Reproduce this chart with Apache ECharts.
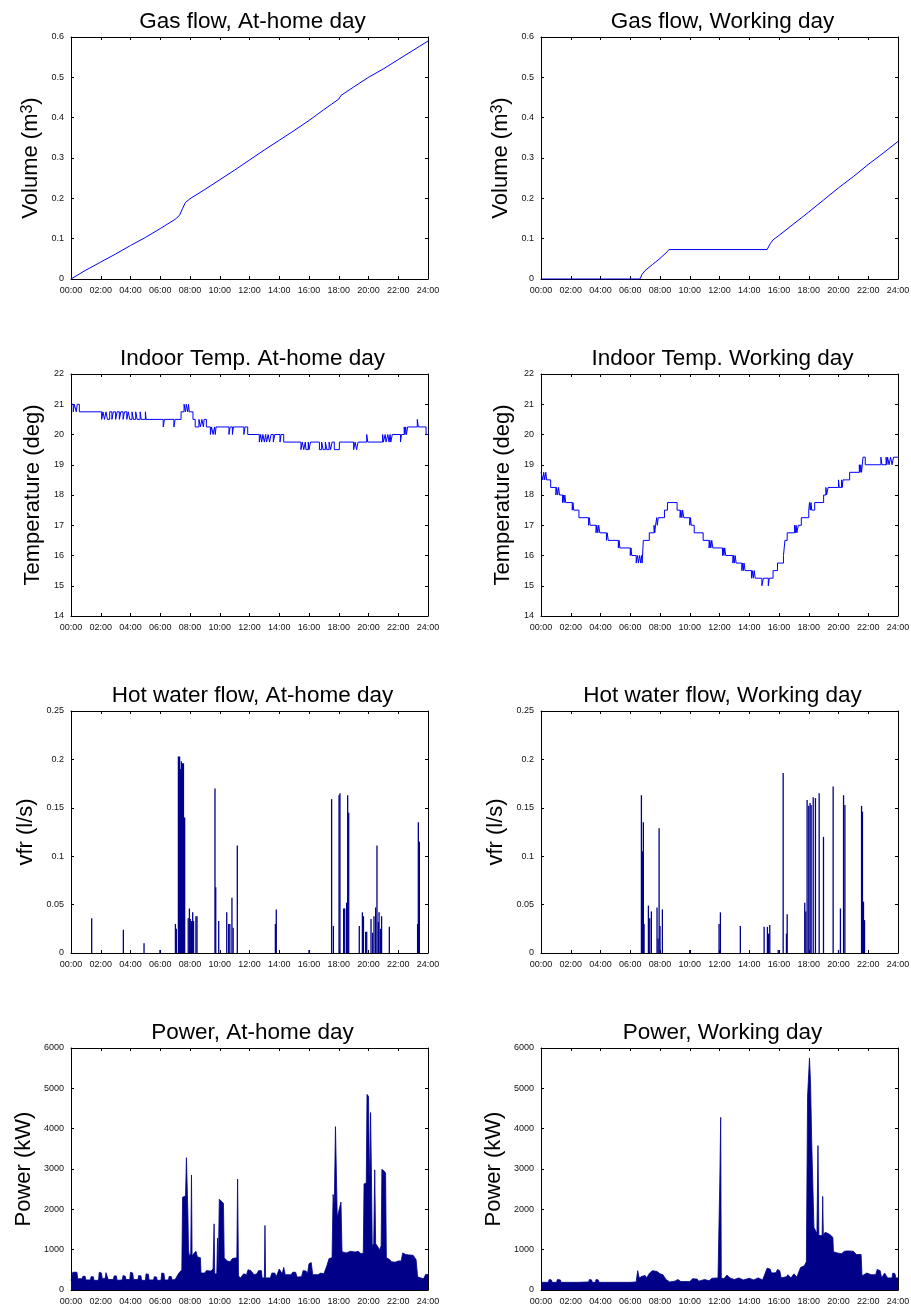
<!DOCTYPE html>
<html>
<head>
<meta charset="utf-8">
<script src="https://cdn.jsdelivr.net/npm/echarts@6/dist/echarts.min.js"></script>
<style>
  html, body { margin: 0; padding: 0; background: #fff; }
  #chart { width: 911px; height: 1308px; }
</style>
</head>
<body>
<div id="chart"></div>
<script>
// x axis tick labels (hours of the day)
const hourLabels = ['00:00','02:00','04:00','06:00','08:00','10:00','12:00','14:00','16:00','18:00','20:00','22:00','24:00'];

// gas meter volume, [hour, m3]
const gasHome = [[0,0],[1,0.022],[2,0.042],[3,0.062],[4,0.083],[5,0.103],[6,0.125],[7,0.148],[7.3,0.158],[7.5,0.175],[7.7,0.19],[8,0.199],
  [9,0.222],[10,0.246],[11,0.27],[12,0.295],[13,0.32],[14,0.344],[15,0.368],[16,0.393],[17,0.42],[18,0.446],[18.15,0.455],
  [19,0.476],[20,0.5],[21,0.521],[22,0.544],[23,0.567],[24,0.59]];
const gasWork = [[0,0],[6.65,0],[6.8,0.012],[7,0.021],[7.5,0.036],[8,0.051],[8.5,0.068],[8.6,0.073],[15.2,0.073],[15.4,0.087],
  [15.6,0.097],[16,0.108],[17,0.137],[18,0.166],[19,0.196],[20,0.226],[21,0.254],[22,0.284],[23,0.312],[24,0.341]];

// indoor temperature, [hour, deg] step values
const tempHome = [[0,21],[0.15,20.75],[0.22,21],[0.35,20.75],[0.42,21],[0.56,20.75],
  [2.06,20.5],[2.15,20.75],[2.25,20.5],[2.35,20.75],[2.45,20.5],[2.6,20.75],[2.75,20.5],[2.85,20.75],[3.0,20.5],[3.1,20.75],
  [3.25,20.5],[3.35,20.75],[3.5,20.5],[3.6,20.75],[3.75,20.5],[3.85,20.75],[3.95,20.5],[4.1,20.75],[4.2,20.5],[4.35,20.75],
  [4.45,20.5],[4.65,20.75],[4.72,20.5],[5.0,20.75],[5.05,20.5],
  [6.2,20.25],[6.28,20.5],[6.92,20.25],[7.0,20.5],
  [7.4,20.75],[7.6,21],[7.7,20.75],[7.75,21],[7.85,20.75],[7.9,21],[7.95,20.75],
  [8.2,20.5],[8.35,20.25],[8.6,20.5],[8.7,20.25],[8.8,20.5],[8.9,20.25],[8.95,20.5],[9.1,20.25],
  [9.37,20],[9.45,20.25],[9.55,20],[9.65,20.25],[9.7,20],[9.75,20.25],
  [10.62,20],[10.7,20.25],[10.85,20],[10.92,20.25],[11.62,20],[11.7,20.25],[11.88,20],
  [12.66,19.75],[12.75,20],[12.82,19.75],[12.9,20],[13.0,19.75],[13.08,20],[13.15,19.75],[13.25,20],[13.35,19.75],[13.45,20],
  [13.6,19.75],[13.7,20],[14.05,19.75],[14.12,20],[14.3,19.75],
  [15.46,19.5],[15.55,19.75],[15.65,19.5],[15.75,19.75],[15.8,19.5],[15.95,19.75],[16.0,19.5],[16.1,19.75],
  [16.7,19.5],[16.85,19.75],[16.95,19.5],[17.1,19.75],[17.2,19.5],[17.35,19.75],[17.45,19.5],[17.55,19.75],[17.7,19.5],
  [18.04,19.75],[19.0,19.5],[19.1,19.75],[19.2,19.5],[19.3,19.75],[19.88,20],[19.95,19.75],
  [20.95,20],[21.0,19.75],[21.12,20],[21.18,19.75],[21.3,20],[21.38,19.75],[21.45,20],[21.5,19.75],[21.6,20],
  [22.15,19.75],[22.22,20],[22.4,20.25],[22.45,20],[22.5,20.25],[22.55,20],[22.63,20.25],
  [23.28,20.5],[23.35,20.25],[23.87,20],[24,20]];
const tempWork = [[0,18.75],[0.12,18.5],[0.18,18.75],[0.25,18.5],[0.32,18.75],[0.38,18.5],
  [0.65,18.25],[1.0,18],[1.05,18.25],[1.12,18],[1.18,18.25],[1.25,18],
  [1.45,17.75],[1.5,18],[1.55,17.75],[1.6,18],[1.66,17.75],[2.1,17.5],[2.15,17.75],[2.2,17.5],
  [2.55,17.25],[3.2,17],[3.25,17.25],[3.3,17],[3.7,16.75],[3.75,17],[3.82,16.75],[3.88,17],[3.95,16.75],
  [4.4,16.5],[4.45,16.75],[4.52,16.5],[5.2,16.25],[5.25,16.5],[5.3,16.25],[6.0,16],[6.05,16.25],[6.1,16],
  [6.4,15.75],[6.48,16],[6.55,15.75],[6.62,16],[6.7,15.75],[6.75,16],[6.8,15.75],[6.88,16.5],
  [7.28,16.75],[7.6,17],[7.65,16.75],[7.7,17],[7.78,17.25],[7.82,17],[7.88,17.25],
  [8.3,17.5],[8.5,17.75],[9.15,17.5],[9.35,17.25],[9.4,17.5],[9.47,17.25],[9.52,17.5],[9.6,17.25],
  [10.0,17],[10.05,17.25],[10.1,17],[10.3,16.75],[10.9,16.5],
  [11.3,16.25],[11.35,16.5],[11.42,16.25],[11.48,16.5],[11.55,16.25],
  [12.2,16],[12.25,16.25],[12.3,16],[12.35,16.25],[12.42,16],
  [12.9,15.75],[12.95,16],[13.0,15.75],[13.05,16],[13.12,15.75],
  [13.5,15.5],[13.55,15.75],[13.6,15.5],[13.65,15.75],[13.72,15.5],
  [14.15,15.25],[14.2,15.5],[14.27,15.25],[14.33,15.5],[14.4,15.25],
  [14.85,15],[14.95,15.25],[15.28,15],[15.35,15.25],
  [15.6,15.5],[15.9,15.75],[16.3,16],[16.4,16.5],[16.55,16.75],
  [17.05,17],[17.1,16.75],[17.15,17],[17.2,16.75],[17.3,17],
  [17.5,17.25],[18.0,17.5],[18.05,17.75],[18.1,17.5],[18.15,17.75],[18.2,17.5],[18.4,17.75],
  [19.0,18],[19.15,18.25],[19.2,18],[19.3,18.25],
  [20.0,18.5],[20.05,18.25],[20.2,18.5],[20.25,18.25],[20.3,18.5],
  [20.75,18.75],[21.4,19],[21.45,18.75],[21.5,19],[21.55,18.75],[21.65,19.25],[21.8,19],
  [22.85,19.25],[22.92,19],[23.2,19.25],[23.25,19],[23.3,19.25],[23.4,19],[23.5,19.25],[23.6,19],[23.7,19.25],[24,19.25]];

// hot water volume flow rate, [hour, l/s]
const waterHome = [[1.39,0.036],[3.52,0.024],[4.91,0.01],[5.98,0.003],[7.02,0.03],[7.08,0.025],
  [7.22,0.203],[7.3,0.203],[7.36,0.19],[7.42,0.198],[7.5,0.196],[7.56,0.196],[7.64,0.14],
  [7.88,0.036],[7.96,0.046],[8.02,0.035],[8.1,0.033],[8.18,0.042],[8.24,0.033],[8.4,0.038],[8.47,0.038],
  [9.68,0.17],[9.73,0.068],[9.93,0.033],
  [10.47,0.042],[10.6,0.03],[10.68,0.03],[10.82,0.057],[10.9,0.026],[11.18,0.111],
  [13.74,0.03],[13.8,0.045],[16.0,0.003],
  [17.52,0.159],[17.64,0.028],[18.02,0.163],[18.08,0.165],[18.33,0.046],[18.4,0.046],
  [18.53,0.052],[18.6,0.163],[18.67,0.145],
  [19.38,0.028],[19.59,0.042],[19.66,0.038],[19.81,0.022],[19.88,0.022],
  [20.17,0.035],[20.28,0.021],[20.37,0.038],[20.48,0.047],[20.57,0.111],[20.66,0.032],[20.71,0.042],[20.8,0.025],[20.88,0.038],
  [21.4,0.027],[23.3,0.03],[23.35,0.135],[23.42,0.115]];
const waterWork = [[6.75,0.163],[6.82,0.105],[6.88,0.135],[6.93,0.03],
  [7.22,0.049],[7.31,0.036],[7.42,0.043],
  [7.8,0.047],[7.87,0.015],[7.94,0.129],[8.0,0.028],[8.16,0.045],
  [10.0,0.003],[11.97,0.03],[12.06,0.042],[13.4,0.028],
  [15.0,0.027],[15.22,0.027],[15.3,0.02],[15.38,0.029],[15.95,0.003],
  [16.28,0.186],[16.5,0.02],[16.55,0.04],
  [17.73,0.052],[17.8,0.043],[17.89,0.158],[18.0,0.152],[18.09,0.155],[18.16,0.153],[18.3,0.161],[18.45,0.16],[18.7,0.165],[18.99,0.12],
  [19.64,0.172],[20.0,0.003],[20.13,0.046],[20.34,0.163],[20.43,0.153],
  [21.55,0.152],[21.61,0.146],[21.68,0.053],[21.75,0.034]];

// electric power, [hour, kW]
const powerHome = [[0,230],[0.12,440],[0.4,440],[0.45,280],[0.75,280],[0.8,340],[0.95,340],[1.0,250],[1.3,250],[1.35,330],[1.5,330],
  [1.55,240],[1.85,240],[1.9,440],[2.05,420],[2.1,280],[2.3,290],[2.35,430],[2.45,430],[2.5,260],[2.85,260],[2.9,350],[3.05,350],
  [3.1,240],[3.45,250],[3.5,360],[3.65,340],[3.7,260],[3.95,260],[4.0,440],[4.15,420],[4.2,260],[4.5,260],[4.55,360],[4.7,350],
  [4.75,240],[5.0,240],[5.05,400],[5.2,390],[5.25,250],[5.55,250],[5.6,330],[5.75,320],[5.8,240],[6.05,240],[6.1,420],[6.25,410],
  [6.3,250],[6.55,250],[6.6,340],[6.75,330],[6.8,250],[7.0,260],[7.05,300],[7.25,420],[7.45,500],
  [7.5,2300],[7.7,2330],[7.76,3280],[7.82,3280],[7.86,1870],[7.9,1000],[7.95,850],[8.05,900],[8.1,2850],[8.14,850],[8.25,900],
  [8.4,960],[8.5,820],[8.7,800],[8.74,420],[9.0,420],[9.1,480],[9.4,470],[9.55,520],[9.62,1640],[9.66,400],[9.8,400],[9.85,1290],
  [9.9,500],[9.97,2250],[10.1,2220],[10.25,2150],[10.3,800],[10.5,720],[10.7,700],[10.85,780],[11.15,800],[11.2,2750],[11.26,350],
  [11.4,300],[11.6,400],[11.8,380],[11.9,500],[12.1,480],[12.3,380],[12.5,400],[12.6,480],[12.8,480],[12.85,300],[13.0,300],
  [13.04,1600],[13.08,300],[13.4,300],[13.5,420],[13.7,420],[13.8,330],[14.0,520],[14.2,400],[14.3,560],[14.4,380],[14.8,380],
  [14.9,440],[15.1,440],[15.2,320],[15.5,330],[15.6,480],[15.8,470],[15.9,400],[16.0,650],[16.15,680],[16.25,380],[16.6,380],
  [16.8,420],[17.0,400],[17.2,600],[17.35,780],[17.55,800],[17.62,2370],[17.7,2100],[17.78,4050],[17.84,2900],[17.9,1800],
  [18.0,1780],[18.15,2180],[18.22,950],[18.5,920],[18.8,960],[19.1,940],[19.3,960],[19.5,900],[19.65,920],[19.7,2630],[19.85,2650],
  [19.9,4850],[20.0,4800],[20.05,3300],[20.1,2800],[20.14,4400],[20.2,2800],[20.25,1100],[20.35,1150],[20.42,2980],[20.48,1150],
  [20.6,1130],[20.75,1000],[20.85,1100],[20.9,2990],[21.05,2950],[21.15,2900],[21.2,800],[21.4,760],[21.55,700],[21.8,690],
  [22.0,720],[22.2,720],[22.3,920],[22.5,880],[22.7,870],[23.0,860],[23.2,750],[23.3,330],[23.5,300],[23.7,280],[23.85,390],[24,380]];
const powerWork = [[0,190],[0.5,190],[0.55,260],[0.7,250],[0.75,190],[1.05,190],[1.1,260],[1.3,250],[1.35,190],[2.5,190],[3.2,200],
  [3.25,260],[3.4,250],[3.45,190],[3.65,190],[3.7,260],[3.85,250],[3.9,190],[5.0,190],[6.0,190],[6.4,200],[6.5,480],[6.6,300],
  [6.8,340],[7.0,360],[7.1,300],[7.3,420],[7.5,480],[7.6,510],[7.8,460],[8.0,400],[8.2,380],[8.4,260],[8.65,200],[9.0,220],
  [9.2,260],[9.4,210],[10.0,210],[10.2,280],[10.5,270],[10.6,220],[11.0,260],[11.3,230],[11.5,290],[11.9,300],[12.02,2700],
  [12.08,4280],[12.12,300],[12.3,280],[12.5,370],[12.7,300],[13.0,260],[13.3,300],[13.6,250],[14.0,290],[14.3,250],[14.6,300],
  [14.9,250],[15.2,540],[15.4,520],[15.5,420],[15.8,430],[15.9,510],[16.05,480],[16.15,300],[16.5,330],[16.6,380],[16.8,300],
  [17.0,400],[17.2,320],[17.45,560],[17.7,600],[17.84,700],[17.92,4800],[18.05,5750],[18.12,5150],[18.2,3650],[18.3,3650],
  [18.35,1550],[18.55,1400],[18.62,3580],[18.68,1350],[18.9,1350],[18.94,2320],[18.98,1350],[19.1,1430],[19.3,1400],[19.5,1350],
  [19.62,1300],[19.66,950],[19.9,920],[20.2,900],[20.4,960],[20.6,970],[21.0,960],[21.2,880],[21.52,880],[21.58,350],[21.9,420],
  [22.2,380],[22.5,380],[22.6,510],[22.8,480],[22.9,300],[23.1,420],[23.3,300],[23.6,300],[23.65,420],[23.8,400],[23.85,300],[24,300]];

const titles = ['Gas flow, At-home day','Gas flow, Working day','Indoor Temp. At-home day','Indoor Temp. Working day',
  'Hot water flow, At-home day','Hot water flow, Working day','Power, At-home day','Power, Working day'];

const font = '"Liberation Sans", Arial, sans-serif';
const colLeft = [71, 541];
const rowTop = [37, 374, 711, 1048];
const gw = 357, gh = 242;

// per row: y range, axis name, gap, series kind
const rows = [
  { min: 0, max: 0.6, interval: 0.1, name: 'Volume (m{sup|3})', gap: 29, kind: 'line', data: [gasHome, gasWork] },
  { min: 14, max: 22, interval: 1, name: 'Temperature (deg)', gap: 27, kind: 'step', data: [tempHome, tempWork] },
  { min: 0, max: 0.25, interval: 0.05, name: 'vfr (l/s)', gap: 34, kind: 'bar', data: [waterHome, waterWork] },
  { min: 0, max: 6000, interval: 1000, name: 'Power (kW)', gap: 36, kind: 'area', data: [powerHome, powerWork] }
];

const chart = echarts.init(document.getElementById('chart'), null, { renderer: 'canvas' });

const grid = [], xAxis = [], yAxis = [], series = [], title = [];
const axisLine = { show: true, onZero: false, lineStyle: { color: '#000', width: 1 } };
const axisTick = { show: true, inside: true, length: 3, lineStyle: { color: '#000', width: 1 } };

rows.forEach(function (row, r) {
  [0, 1].forEach(function (c) {
    const i = r * 2 + c;
    grid.push({ left: colLeft[c], top: rowTop[r], width: gw, height: gh, containLabel: false, outerBoundsMode: 'none' });
    title.push({
      text: titles[i], left: colLeft[c] + gw / 2 + 3, top: rowTop[r] - 27, textAlign: 'center', padding: 0,
      textStyle: { fontFamily: font, fontSize: 22.5, fontWeight: 'normal', color: '#000' }
    });
    const xBase = { type: 'value', gridIndex: i, min: 0, max: 24, interval: 2, axisLine: axisLine, axisTick: axisTick, splitLine: { show: false } };
    xAxis.push(Object.assign({}, xBase, {
      position: 'bottom',
      axisLabel: { show: true, margin: 7, fontSize: 9, color: '#111', fontFamily: font,
        formatter: function (v) { return hourLabels[Math.round(v / 2)]; } }
    }));
    xAxis.push(Object.assign({}, xBase, { position: 'top', axisLabel: { show: false } }));
    const yBase = { type: 'value', gridIndex: i, min: row.min, max: row.max, interval: row.interval, axisLine: axisLine, axisTick: axisTick, splitLine: { show: false } };
    yAxis.push(Object.assign({}, yBase, {
      position: 'left',
      axisLabel: { show: true, margin: 7, fontSize: 9, color: '#111', fontFamily: font,
        formatter: function (v) { return String(+v.toFixed(4)); } },
      name: row.name, nameLocation: 'middle', nameGap: row.gap, nameRotate: 90, nameMoveOverlap: false,
      nameTextStyle: { fontFamily: font, fontSize: 22, color: '#000',
        rich: { sup: { fontFamily: font, fontSize: 16, lineHeight: 12, verticalAlign: 'top', color: '#000' } } }
    }));
    yAxis.push(Object.assign({}, yBase, { position: 'right', axisLabel: { show: false } }));

    const s = { xAxisIndex: i * 2, yAxisIndex: i * 2, data: row.data[c], animation: false, silent: true };
    if (row.kind === 'bar') {
      Object.assign(s, { type: 'bar', barWidth: 1.3, itemStyle: { color: '#00008c' } });
    } else if (row.kind === 'area') {
      Object.assign(s, { type: 'line', showSymbol: false, lineStyle: { color: '#000088', width: 0.8 },
        areaStyle: { color: '#000088', opacity: 1 } });
    } else {
      Object.assign(s, { type: 'line', showSymbol: false, step: row.kind === 'step' ? 'end' : false,
        lineStyle: { color: '#0000ff', width: 1 } });
    }
    series.push(s);
  });
});

chart.setOption({
  backgroundColor: '#fff',
  animation: false,
  title: title,
  grid: grid,
  xAxis: xAxis,
  yAxis: yAxis,
  series: series
});
</script>
</body>
</html>
